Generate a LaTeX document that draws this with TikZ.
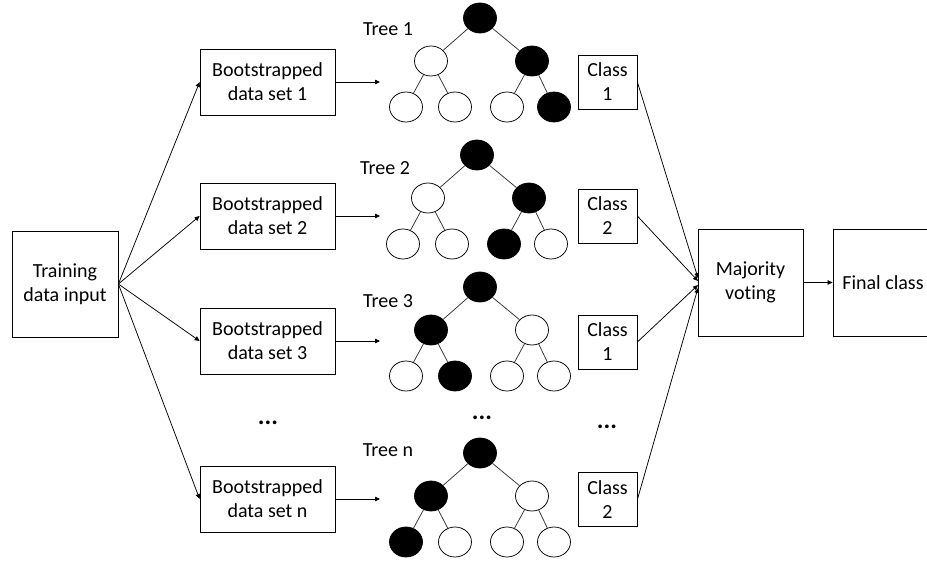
\documentclass[tikz,border=0pt]{standalone}
\usepackage{fontspec}
\setmainfont{Carlito}[Ligatures=NoCommon]
\usetikzlibrary{arrows.meta,shapes.geometric}
\newcommand\rftree[9]{%
  \node[bn] (#1r) at (#2,#3) {};
  \node[#4] (#1a) at ({#2-49},{#3+43}) {};
  \node[#5] (#1b) at ({#2+52},{#3+43}) {};
  \node[#6] (#1c) at ({#2-74},{#3+89}) {};
  \node[#7] (#1d) at ({#2-25},{#3+89}) {};
  \node[#8] (#1e) at ({#2+27},{#3+89}) {};
  \node[#9] (#1f) at ({#2+74},{#3+89}) {};
  \draw[edge] (#1r) -- (#1a);
  \draw[edge] (#1r) -- (#1b);
  \draw[edge] (#1a) -- (#1c);
  \draw[edge] (#1a) -- (#1d);
  \draw[edge] (#1b) -- (#1e);
  \draw[edge] (#1b) -- (#1f);
}
\begin{document}
\begin{tikzpicture}[x=1pt,y=-1pt,
  txt/.style={font=\fontsize{20}{24}\selectfont},
  box/.style={draw, line width=0.75pt, inner sep=0pt, align=center, txt},
  tn/.style={draw, ellipse, minimum width=33pt, minimum height=30pt, inner sep=0pt, line width=0.75pt},
  bn/.style={tn, fill=black},
  wn/.style={tn, fill=white},
  arr/.style={-{Triangle[length=5pt,width=4.5pt]}, line width=0.75pt},
  lbl/.style={txt, inner sep=0pt},
  dots/.style={inner sep=0pt, font=\fontsize{25}{30}\selectfont\bfseries},
  edge/.style={line width=0.75pt, draw=black!80}]
\clip (0,0) rectangle (927,560);
% left column
\node[box, minimum width=106pt, minimum height=106pt] (train) at (65,284) {Training\\data input};
\node[box, minimum width=135pt, minimum height=66pt] (boot1) at (267.5,82) {Bootstrapped\\data set 1};
\node[box, minimum width=135pt, minimum height=66pt] (boot2) at (267.5,216) {Bootstrapped\\data set 2};
\node[box, minimum width=135pt, minimum height=66pt] (boot3) at (267.5,341) {Bootstrapped\\data set 3};
\node[box, minimum width=135pt, minimum height=66pt] (bootn) at (267.5,499) {Bootstrapped\\data set n};
\draw[arr] (train.east) -- (boot1.west);
\draw[arr] (train.east) -- (boot2.west);
\draw[arr] (train.east) -- (boot3.west);
\draw[arr] (train.east) -- (bootn.west);
% arrows into trees
\coordinate (in1) at (380,82);
\coordinate (in2) at (380,216);
\coordinate (in3) at (380,341);
\coordinate (inn) at (380,499);
\draw[arr] (boot1.east) -- (in1);
\draw[arr] (boot2.east) -- (in2);
\draw[arr] (boot3.east) -- (in3);
\draw[arr] (bootn.east) -- (inn);
% trees
\rftree{ta}{480}{18}{wn}{bn}{wn}{wn}{wn}{bn}
\rftree{tb}{477}{155}{wn}{bn}{wn}{wn}{bn}{wn}
\rftree{tc}{480}{287}{bn}{wn}{wn}{bn}{wn}{wn}
\rftree{td}{480}{453}{bn}{wn}{bn}{wn}{wn}{wn}
\node[lbl] (l1) at (388,29) {Tree 1};
\node[lbl] (l2) at (385,168) {Tree 2};
\node[lbl] (l3) at (388,301) {Tree 3};
\node[lbl] (l4) at (388,450) {Tree n};
% dots
\node[dots] (d1) at (268,423) {...};
\node[dots] (d2) at (482,418) {...};
\node[dots] (d3) at (607,427) {...};
% classes
\node[box, minimum width=59pt, minimum height=54pt] (c1) at (607.5,82) {Class\\1};
\node[box, minimum width=59pt, minimum height=54pt] (c2) at (607.5,216) {Class\\2};
\node[box, minimum width=59pt, minimum height=54pt] (c3) at (607.5,342) {Class\\1};
\node[box, minimum width=59pt, minimum height=54pt] (cn) at (607.5,499.5) {Class\\2};
% majority & final
\node[box, minimum width=105pt, minimum height=107pt] (maj) at (750.5,282.5) {Majority\\voting};
\node[box, minimum width=100pt, minimum height=107pt] (fin) at (883,282.5) {Final class};
\coordinate (m1) at (698,278);
\coordinate (m2) at (698,281);
\coordinate (m3) at (698,285);
\coordinate (m4) at (698,288);
\draw[arr] (c1.east) -- (m1);
\draw[arr] (c2.east) -- (m2);
\draw[arr] (c3.east) -- (m3);
\draw[arr] (cn.east) -- (m4);
\draw[arr] (maj.east) -- (fin.west);
\end{tikzpicture}
\end{document}
